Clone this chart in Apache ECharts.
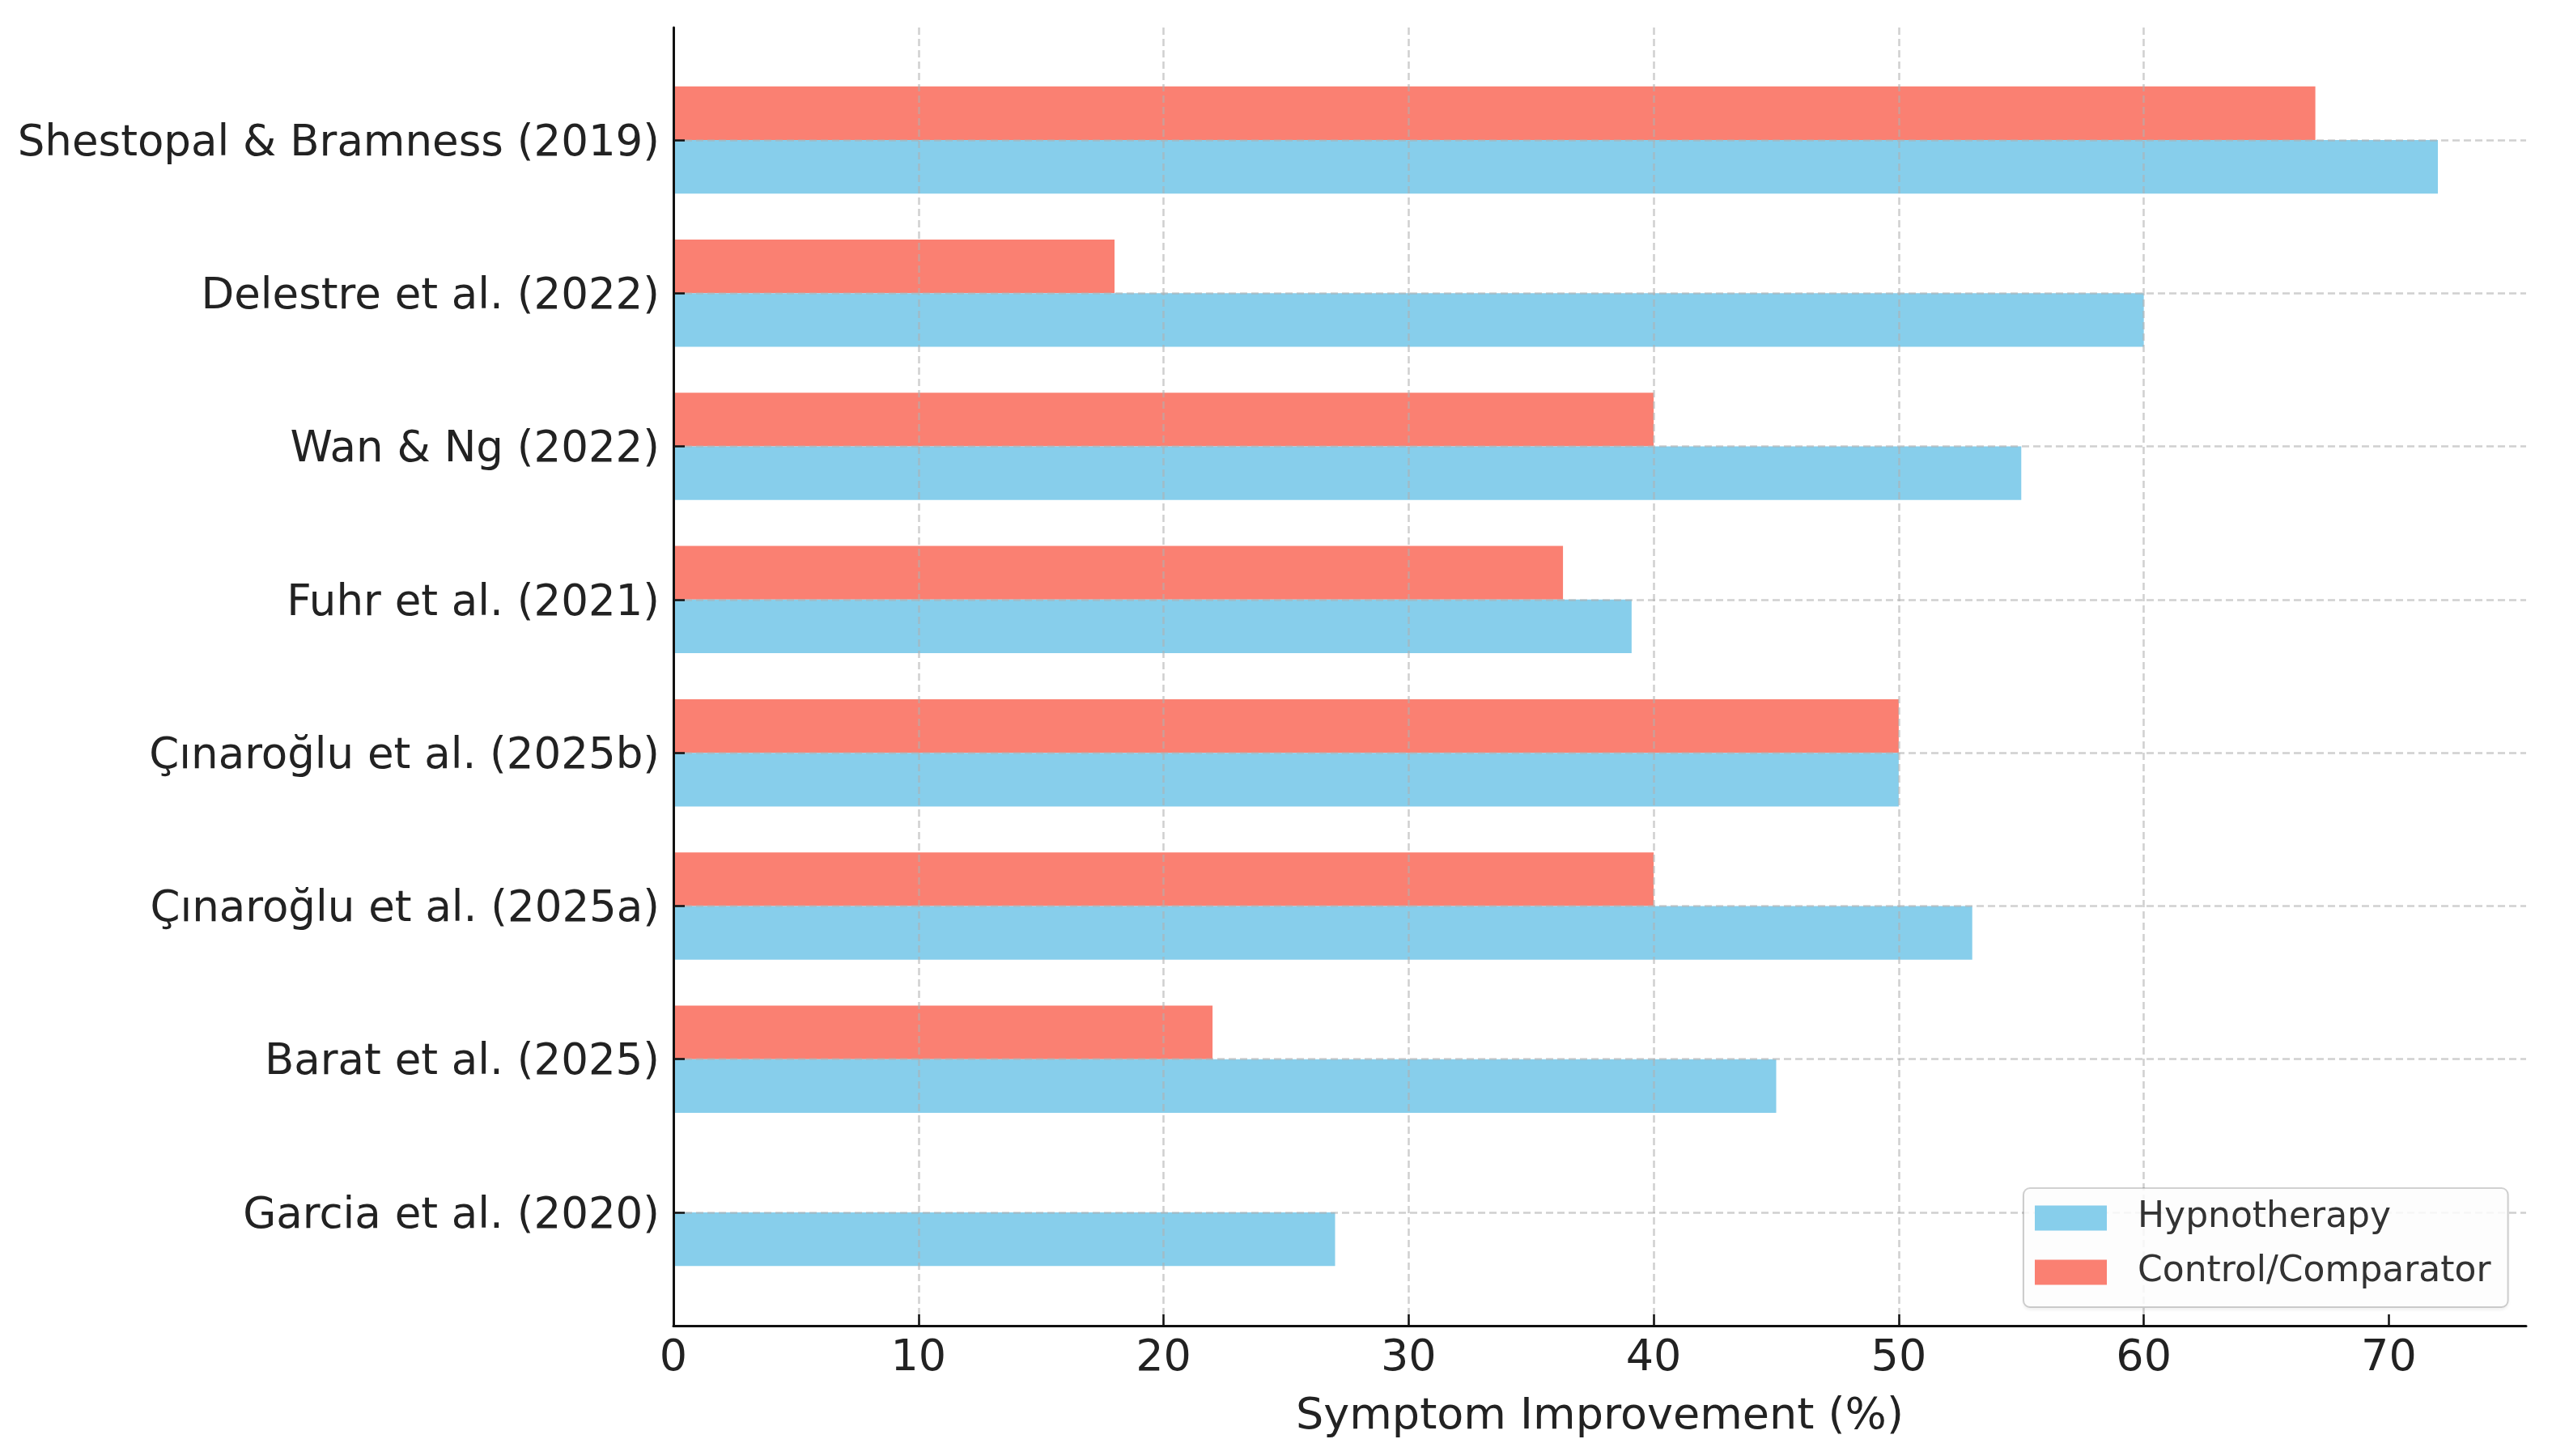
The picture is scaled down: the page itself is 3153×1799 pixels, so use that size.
<!DOCTYPE html>
<html>
<head>
<meta charset="utf-8">
<script src="https://cdn.jsdelivr.net/npm/echarts@6/dist/echarts.min.js"></script>
<style>
html,body{margin:0;padding:0;background:#fff;}
#chart{width:3153px;height:1799px;}
</style>
</head>
<body>
<div id="chart"></div>
<script>
// Categories from bottom to top
const studies = [
  'Garcia et al. (2020)',
  'Barat et al. (2025)',
  'Çınaroğlu et al. (2025a)',
  'Çınaroğlu et al. (2025b)',
  'Fuhr et al. (2021)',
  'Wan & Ng (2022)',
  'Delestre et al. (2022)',
  'Shestopal & Bramness (2019)'
];
const hypnotherapy = [27, 45, 53, 50, 39.1, 55, 60, 72];
const control = [null, 22, 40, 50, 36.3, 40, 18, 67];
const xTicks = [0, 10, 20, 30, 40, 50, 60, 70];

const FONT = 'DejaVu Sans';
const TEXT = '#222';
const gridLine = { show: true, lineStyle: { color: 'rgba(176,176,176,0.6)', width: 2.5, type: [9, 5] } };

const chart = echarts.init(document.getElementById('chart'), null, { renderer: 'canvas' });
chart.setOption({
  backgroundColor: '#fff',
  animation: false,
  textStyle: { fontFamily: FONT },
  grid: [
    { left: 832, right: 32, top: 34, bottom: 161, containLabel: false },
    { left: 832, right: 32, top: 173, bottom: 301, containLabel: false }
  ],
  xAxis: [
    {
      type: 'value', gridIndex: 0, min: 0, max: 75.6, interval: 10, z: 5,
      name: 'Symptom Improvement (%)', nameLocation: 'middle', nameGap: 86,
      nameTextStyle: { fontSize: 54, color: TEXT, fontFamily: FONT },
      axisLine: { show: true, lineStyle: { color: '#111', width: 3 } },
      axisTick: { show: true, inside: true, length: 14, lineStyle: { color: '#111', width: 2.5 }, customValues: xTicks },
      axisLabel: { fontSize: 54, color: TEXT, margin: 14, fontFamily: FONT, customValues: xTicks },
      splitLine: Object.assign({ showMinLine: false, showMaxLine: false }, gridLine)
    },
    {
      type: 'value', gridIndex: 1, min: 0, max: 75.6, interval: 10, show: false
    }
  ],
  yAxis: [
    {
      type: 'value', gridIndex: 0, min: 0, max: 1, z: 5,
      axisLine: { show: true, lineStyle: { color: '#111', width: 3 } },
      axisTick: { show: false }, axisLabel: { show: false }, splitLine: { show: false }
    },
    {
      type: 'category', gridIndex: 1, data: studies, boundaryGap: false, z: 5,
      axisLine: { show: false },
      axisTick: { show: true, inside: true, length: 14, lineStyle: { color: '#111', width: 2.5 } },
      axisLabel: {
        fontSize: 53, color: TEXT, margin: 17, fontFamily: FONT,
        formatter: function (v) { return '{a|' + v + '}'; },
        rich: { a: { fontSize: 53, color: TEXT, fontFamily: FONT, padding: [10, 0, 0, 0] } }
      },
      splitLine: gridLine
    }
  ],
  legend: {
    orient: 'vertical', left: 2500, top: 1468,
    data: ['Hypnotherapy', 'Control/Comparator'],
    icon: 'rect', itemWidth: 89, itemHeight: 31, itemGap: 23,
    padding: [15, 21, 21, 14],
    backgroundColor: 'rgba(255,255,255,0.85)',
    borderColor: 'rgba(0,0,0,0.18)', borderWidth: 2, borderRadius: 8,
    shadowColor: 'rgba(0,0,0,0.08)', shadowBlur: 4, shadowOffsetY: 3,
    textStyle: { fontSize: 44, color: '#333', fontFamily: FONT, padding: [0, 0, 0, 33] },
    z: 10
  },
  series: [
    {
      name: 'Control/Comparator', type: 'bar', xAxisIndex: 1, yAxisIndex: 1,
      data: control, barWidth: '35%', barGap: '0%', clip: false,
      itemStyle: { color: '#FA8072' }
    },
    {
      name: 'Hypnotherapy', type: 'bar', xAxisIndex: 1, yAxisIndex: 1,
      data: hypnotherapy, barWidth: '35%', barGap: '0%', clip: false,
      itemStyle: { color: '#87CEEB' }
    }
  ]
});
</script>
</body>
</html>
